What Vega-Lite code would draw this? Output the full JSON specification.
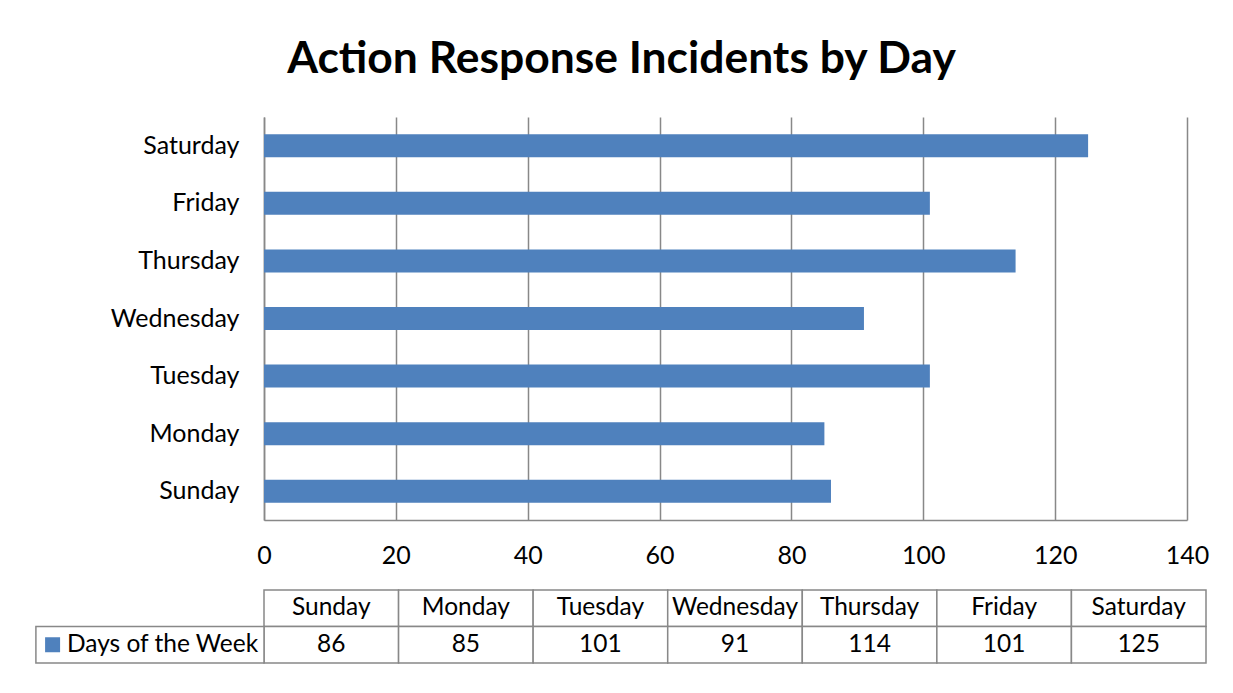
{
  "$schema": "https://vega.github.io/schema/vega-lite/v6.json",
  "padding": {"left": 35, "top": 36, "right": 10, "bottom": 10},
  "background": "white",
  "data": {"values": [
    {"day": "Sunday", "incidents": 86},
    {"day": "Monday", "incidents": 85},
    {"day": "Tuesday", "incidents": 101},
    {"day": "Wednesday", "incidents": 91},
    {"day": "Thursday", "incidents": 114},
    {"day": "Friday", "incidents": 101},
    {"day": "Saturday", "incidents": 125}
  ]},
  "config": {"font": "Lato", "view": {"stroke": null}},
  "spacing": 21,
  "vconcat": [
    {
      "width": 923,
      "height": 403,
      "title": {"text": "Action Response Incidents by Day", "fontSize": 44.4, "fontWeight": "bold", "font": "Lato", "anchor": "middle", "dx": -104, "offset": 35, "color": "black"},
      "mark": {"type": "bar", "color": "#4F81BD"},
      "encoding": {
        "y": {"field": "day", "type": "nominal", "sort": ["Saturday", "Friday", "Thursday", "Wednesday", "Tuesday", "Monday", "Sunday"],
          "scale": {"paddingInner": 0.6, "paddingOuter": 0.3},
          "axis": {"title": null, "ticks": false, "grid": false, "domainColor": "#888888", "domainWidth": 1.5, "labelFontSize": 25, "labelColor": "black", "labelPadding": 25}},
        "x": {"field": "incidents", "type": "quantitative", "scale": {"domain": [0, 140], "nice": false},
          "axis": {"title": null, "values": [0, 20, 40, 60, 80, 100, 120, 140], "ticks": false, "grid": true, "gridColor": "#888888", "gridOpacity": 1, "gridWidth": 1.5, "domainColor": "#888888", "domainWidth": 1.5, "labelFontSize": 25, "labelColor": "black", "labelPadding": 23, "labelFlush": false}}
      }
    },
    {
      "width": 942,
      "height": 73,
      "layer": [
        {
          "mark": {"type": "rect", "fill": "white", "stroke": "#888888", "strokeWidth": 1.5},
          "encoding": {
            "x": {"field": "day", "type": "nominal", "scale": {"domain": ["Sunday", "Monday", "Tuesday", "Wednesday", "Thursday", "Friday", "Saturday"], "paddingInner": 0, "paddingOuter": 0}, "axis": null},
            "y": {"datum": "h", "type": "nominal", "scale": {"domain": ["h", "v"], "paddingInner": 0, "paddingOuter": 0}, "axis": null}
          }
        },
        {
          "mark": {"type": "rect", "fill": "white", "stroke": "#888888", "strokeWidth": 1.5},
          "encoding": {
            "x": {"field": "day", "type": "nominal"},
            "y": {"datum": "v", "type": "nominal"}
          }
        },
        {
          "mark": {"type": "text", "fontSize": 24.5, "color": "black"},
          "encoding": {
            "x": {"field": "day", "type": "nominal"},
            "y": {"datum": "h", "type": "nominal"},
            "text": {"field": "day"}
          }
        },
        {
          "mark": {"type": "text", "fontSize": 24.5, "color": "black"},
          "encoding": {
            "x": {"field": "day", "type": "nominal"},
            "y": {"datum": "v", "type": "nominal"},
            "text": {"field": "incidents"}
          }
        },
        {
          "data": {"values": [{"series": "Days of the Week"}]},
          "layer": [
            {
              "mark": {"type": "rect", "fill": "white", "stroke": "#888888", "strokeWidth": 1.5},
              "encoding": {
                "x": {"datum": "Sunday", "type": "nominal", "bandPosition": -1.695},
                "x2": {"datum": "Sunday", "bandPosition": 0},
                "y": {"datum": "v", "type": "nominal"}
              }
            },
            {
              "mark": {"type": "point", "shape": "square", "size": 225, "filled": true, "color": "#4F81BD", "opacity": 1},
              "encoding": {
                "x": {"datum": "Sunday", "type": "nominal", "bandPosition": -1.571},
                "y": {"datum": "v", "type": "nominal"}
              }
            },
            {
              "mark": {"type": "text", "fontSize": 24.5, "color": "black", "align": "left"},
              "encoding": {
                "x": {"datum": "Sunday", "type": "nominal", "bandPosition": -1.464},
                "y": {"datum": "v", "type": "nominal"},
                "text": {"field": "series"}
              }
            }
          ]
        }
      ]
    }
  ]
}
